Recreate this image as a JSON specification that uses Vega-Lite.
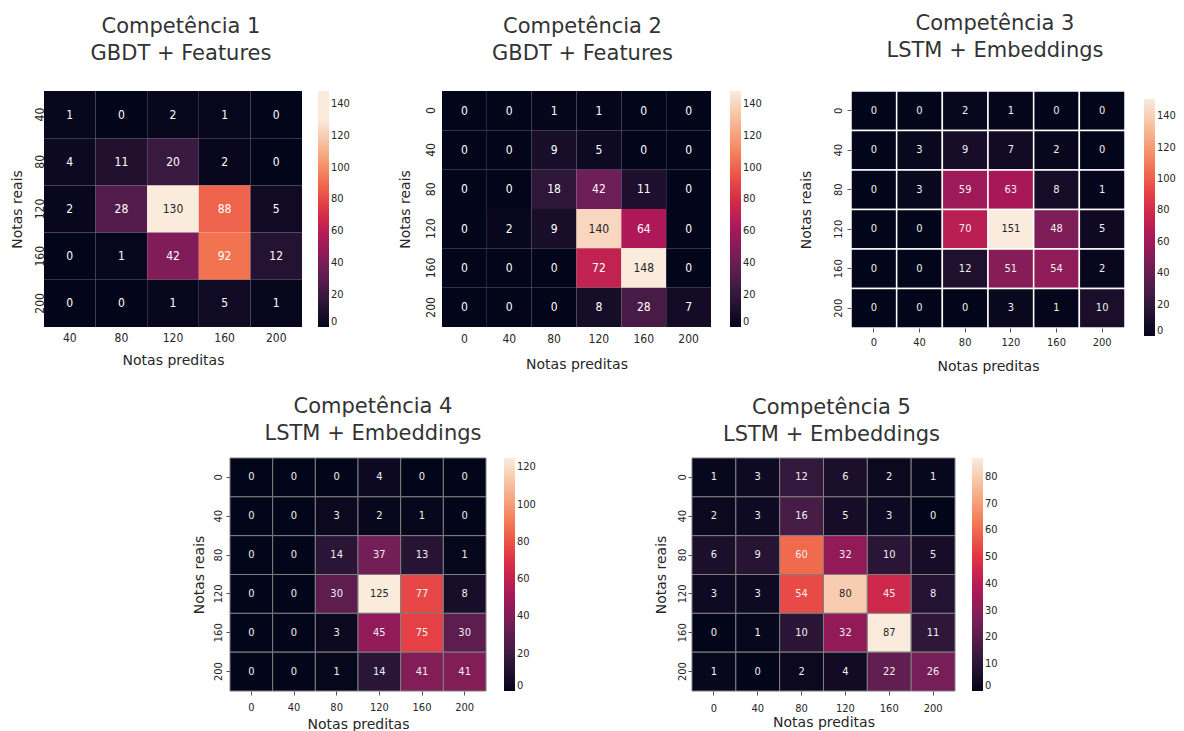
{
  "$schema": "https://vega.github.io/schema/vega-lite/v6.json",
  "background": "white",
  "padding": {"left": 10, "top": 13, "right": 2, "bottom": 2},
  "config": {
    "view": {"stroke": null},
    "axis": {"domain": false, "grid": false, "labelColor": "#262626", "titleColor": "#262626", "titleFont": "DejaVu Sans", "titleFontSize": 14, "titleFontWeight": "normal", "tickColor": "#555555", "tickWidth": 1},
    "legend": {"labelFont": "DejaVu Sans Condensed", "labelFontSize": 11, "labelColor": "#262626", "gradientStrokeWidth": 0, "labelOffset": 7, "labelBaseline": "middle"},
    "title": {"font": "DejaVu Sans", "fontSize": 21, "fontWeight": "normal", "color": "#333333", "lineHeight": 27, "anchor": "middle"}
  },
  "datasets": {
    "c1": [
      {"real": 40, "pred": 40, "n": 1}, {"real": 40, "pred": 80, "n": 0}, {"real": 40, "pred": 120, "n": 2}, {"real": 40, "pred": 160, "n": 1}, {"real": 40, "pred": 200, "n": 0},
      {"real": 80, "pred": 40, "n": 4}, {"real": 80, "pred": 80, "n": 11}, {"real": 80, "pred": 120, "n": 20}, {"real": 80, "pred": 160, "n": 2}, {"real": 80, "pred": 200, "n": 0},
      {"real": 120, "pred": 40, "n": 2}, {"real": 120, "pred": 80, "n": 28}, {"real": 120, "pred": 120, "n": 130}, {"real": 120, "pred": 160, "n": 88}, {"real": 120, "pred": 200, "n": 5},
      {"real": 160, "pred": 40, "n": 0}, {"real": 160, "pred": 80, "n": 1}, {"real": 160, "pred": 120, "n": 42}, {"real": 160, "pred": 160, "n": 92}, {"real": 160, "pred": 200, "n": 12},
      {"real": 200, "pred": 40, "n": 0}, {"real": 200, "pred": 80, "n": 0}, {"real": 200, "pred": 120, "n": 1}, {"real": 200, "pred": 160, "n": 5}, {"real": 200, "pred": 200, "n": 1}
    ],
    "c2": [
      {"real": 0, "pred": 0, "n": 0}, {"real": 0, "pred": 40, "n": 0}, {"real": 0, "pred": 80, "n": 1}, {"real": 0, "pred": 120, "n": 1}, {"real": 0, "pred": 160, "n": 0}, {"real": 0, "pred": 200, "n": 0},
      {"real": 40, "pred": 0, "n": 0}, {"real": 40, "pred": 40, "n": 0}, {"real": 40, "pred": 80, "n": 9}, {"real": 40, "pred": 120, "n": 5}, {"real": 40, "pred": 160, "n": 0}, {"real": 40, "pred": 200, "n": 0},
      {"real": 80, "pred": 0, "n": 0}, {"real": 80, "pred": 40, "n": 0}, {"real": 80, "pred": 80, "n": 18}, {"real": 80, "pred": 120, "n": 42}, {"real": 80, "pred": 160, "n": 11}, {"real": 80, "pred": 200, "n": 0},
      {"real": 120, "pred": 0, "n": 0}, {"real": 120, "pred": 40, "n": 2}, {"real": 120, "pred": 80, "n": 9}, {"real": 120, "pred": 120, "n": 140}, {"real": 120, "pred": 160, "n": 64}, {"real": 120, "pred": 200, "n": 0},
      {"real": 160, "pred": 0, "n": 0}, {"real": 160, "pred": 40, "n": 0}, {"real": 160, "pred": 80, "n": 0}, {"real": 160, "pred": 120, "n": 72}, {"real": 160, "pred": 160, "n": 148}, {"real": 160, "pred": 200, "n": 0},
      {"real": 200, "pred": 0, "n": 0}, {"real": 200, "pred": 40, "n": 0}, {"real": 200, "pred": 80, "n": 0}, {"real": 200, "pred": 120, "n": 8}, {"real": 200, "pred": 160, "n": 28}, {"real": 200, "pred": 200, "n": 7}
    ],
    "c3": [
      {"real": 0, "pred": 0, "n": 0}, {"real": 0, "pred": 40, "n": 0}, {"real": 0, "pred": 80, "n": 2}, {"real": 0, "pred": 120, "n": 1}, {"real": 0, "pred": 160, "n": 0}, {"real": 0, "pred": 200, "n": 0},
      {"real": 40, "pred": 0, "n": 0}, {"real": 40, "pred": 40, "n": 3}, {"real": 40, "pred": 80, "n": 9}, {"real": 40, "pred": 120, "n": 7}, {"real": 40, "pred": 160, "n": 2}, {"real": 40, "pred": 200, "n": 0},
      {"real": 80, "pred": 0, "n": 0}, {"real": 80, "pred": 40, "n": 3}, {"real": 80, "pred": 80, "n": 59}, {"real": 80, "pred": 120, "n": 63}, {"real": 80, "pred": 160, "n": 8}, {"real": 80, "pred": 200, "n": 1},
      {"real": 120, "pred": 0, "n": 0}, {"real": 120, "pred": 40, "n": 0}, {"real": 120, "pred": 80, "n": 70}, {"real": 120, "pred": 120, "n": 151}, {"real": 120, "pred": 160, "n": 48}, {"real": 120, "pred": 200, "n": 5},
      {"real": 160, "pred": 0, "n": 0}, {"real": 160, "pred": 40, "n": 0}, {"real": 160, "pred": 80, "n": 12}, {"real": 160, "pred": 120, "n": 51}, {"real": 160, "pred": 160, "n": 54}, {"real": 160, "pred": 200, "n": 2},
      {"real": 200, "pred": 0, "n": 0}, {"real": 200, "pred": 40, "n": 0}, {"real": 200, "pred": 80, "n": 0}, {"real": 200, "pred": 120, "n": 3}, {"real": 200, "pred": 160, "n": 1}, {"real": 200, "pred": 200, "n": 10}
    ],
    "c4": [
      {"real": 0, "pred": 0, "n": 0}, {"real": 0, "pred": 40, "n": 0}, {"real": 0, "pred": 80, "n": 0}, {"real": 0, "pred": 120, "n": 4}, {"real": 0, "pred": 160, "n": 0}, {"real": 0, "pred": 200, "n": 0},
      {"real": 40, "pred": 0, "n": 0}, {"real": 40, "pred": 40, "n": 0}, {"real": 40, "pred": 80, "n": 3}, {"real": 40, "pred": 120, "n": 2}, {"real": 40, "pred": 160, "n": 1}, {"real": 40, "pred": 200, "n": 0},
      {"real": 80, "pred": 0, "n": 0}, {"real": 80, "pred": 40, "n": 0}, {"real": 80, "pred": 80, "n": 14}, {"real": 80, "pred": 120, "n": 37}, {"real": 80, "pred": 160, "n": 13}, {"real": 80, "pred": 200, "n": 1},
      {"real": 120, "pred": 0, "n": 0}, {"real": 120, "pred": 40, "n": 0}, {"real": 120, "pred": 80, "n": 30}, {"real": 120, "pred": 120, "n": 125}, {"real": 120, "pred": 160, "n": 77}, {"real": 120, "pred": 200, "n": 8},
      {"real": 160, "pred": 0, "n": 0}, {"real": 160, "pred": 40, "n": 0}, {"real": 160, "pred": 80, "n": 3}, {"real": 160, "pred": 120, "n": 45}, {"real": 160, "pred": 160, "n": 75}, {"real": 160, "pred": 200, "n": 30},
      {"real": 200, "pred": 0, "n": 0}, {"real": 200, "pred": 40, "n": 0}, {"real": 200, "pred": 80, "n": 1}, {"real": 200, "pred": 120, "n": 14}, {"real": 200, "pred": 160, "n": 41}, {"real": 200, "pred": 200, "n": 41}
    ],
    "c5": [
      {"real": 0, "pred": 0, "n": 1}, {"real": 0, "pred": 40, "n": 3}, {"real": 0, "pred": 80, "n": 12}, {"real": 0, "pred": 120, "n": 6}, {"real": 0, "pred": 160, "n": 2}, {"real": 0, "pred": 200, "n": 1},
      {"real": 40, "pred": 0, "n": 2}, {"real": 40, "pred": 40, "n": 3}, {"real": 40, "pred": 80, "n": 16}, {"real": 40, "pred": 120, "n": 5}, {"real": 40, "pred": 160, "n": 3}, {"real": 40, "pred": 200, "n": 0},
      {"real": 80, "pred": 0, "n": 6}, {"real": 80, "pred": 40, "n": 9}, {"real": 80, "pred": 80, "n": 60}, {"real": 80, "pred": 120, "n": 32}, {"real": 80, "pred": 160, "n": 10}, {"real": 80, "pred": 200, "n": 5},
      {"real": 120, "pred": 0, "n": 3}, {"real": 120, "pred": 40, "n": 3}, {"real": 120, "pred": 80, "n": 54}, {"real": 120, "pred": 120, "n": 80}, {"real": 120, "pred": 160, "n": 45}, {"real": 120, "pred": 200, "n": 8},
      {"real": 160, "pred": 0, "n": 0}, {"real": 160, "pred": 40, "n": 1}, {"real": 160, "pred": 80, "n": 10}, {"real": 160, "pred": 120, "n": 32}, {"real": 160, "pred": 160, "n": 87}, {"real": 160, "pred": 200, "n": 11},
      {"real": 200, "pred": 0, "n": 1}, {"real": 200, "pred": 40, "n": 0}, {"real": 200, "pred": 80, "n": 2}, {"real": 200, "pred": 120, "n": 4}, {"real": 200, "pred": 160, "n": 22}, {"real": 200, "pred": 200, "n": 26}
    ]
  },
  "vconcat": [
    {
      "hconcat": [
        {
          "width": 258, "height": 236,
          "data": {"name": "c1"},
          "title": {"text": ["Competência 1", "GBDT + Features"], "offset": 27, "dx": 8},
          "encoding": {
            "x": {"field": "pred", "type": "ordinal", "scale": {"paddingInner": 0, "paddingOuter": 0}, "axis": {"title": "Notas preditas", "labelAngle": 0, "labelFont": "DejaVu Sans Condensed", "labelFontSize": 12, "labelPadding": 5, "ticks": false, "tickSize": 0, "titlePadding": 10}},
            "y": {"field": "real", "type": "ordinal", "scale": {"paddingInner": 0, "paddingOuter": 0}, "axis": {"title": "Notas reais", "labelAngle": -90, "labelAlign": "center", "labelBaseline": "bottom", "labelFont": "DejaVu Sans Condensed", "labelFontSize": 12, "labelPadding": -2, "ticks": false, "tickSize": 0, "titlePadding": 9}}
          },
          "layer": [
            {"mark": {"type": "rect"}, "encoding": {"color": {"field": "n", "type": "quantitative", "scale": {"type": "linear", "domain": [0, 18.57, 37.14, 55.71, 74.29, 92.86, 111.43, 130, 148], "range": ["#03051a", "#35193e", "#701f57", "#ad1759", "#e13342", "#f37651", "#f6b48f", "#faebdd", "#faebdd"], "interpolate": "rgb"}, "legend": {"title": null, "orient": "right", "offset": 16, "gradientLength": 236, "gradientThickness": 11, "values": [0, 20, 40, 60, 80, 100, 120, 140]}}}},
            {"mark": {"type": "text", "font": "DejaVu Sans Condensed", "fontSize": 12}, "encoding": {"text": {"field": "n", "type": "quantitative"}, "color": {"condition": {"test": "datum.n >= 101", "value": "#262626"}, "value": "#ffffff"}}}
          ]
        },
        {
          "width": 269, "height": 236,
          "data": {"name": "c2"},
          "title": {"text": ["Competência 2", "GBDT + Features"], "offset": 27, "dx": 6},
          "encoding": {
            "x": {"field": "pred", "type": "ordinal", "scale": {"paddingInner": 0, "paddingOuter": 0}, "axis": {"title": "Notas preditas", "labelAngle": 0, "labelFont": "DejaVu Sans Condensed", "labelFontSize": 12, "labelPadding": 6, "ticks": false, "tickSize": 0, "titlePadding": 13}},
            "y": {"field": "real", "type": "ordinal", "scale": {"paddingInner": 0, "paddingOuter": 0}, "axis": {"title": "Notas reais", "labelAngle": -90, "labelAlign": "center", "labelBaseline": "bottom", "labelFont": "DejaVu Sans Condensed", "labelFontSize": 12, "labelPadding": 5, "ticks": false, "tickSize": 0, "titlePadding": 12}}
          },
          "layer": [
            {"mark": {"type": "rect"}, "encoding": {"color": {"field": "n", "type": "quantitative", "scale": {"type": "linear", "domain": [0, 21.14, 42.29, 63.43, 84.57, 105.71, 126.86, 148], "range": ["#03051a", "#35193e", "#701f57", "#ad1759", "#e13342", "#f37651", "#f6b48f", "#faebdd"], "interpolate": "rgb"}, "legend": {"title": null, "orient": "right", "offset": 19, "gradientLength": 236, "gradientThickness": 11, "values": [0, 20, 40, 60, 80, 100, 120, 140]}}}},
            {"mark": {"type": "text", "font": "DejaVu Sans Condensed", "fontSize": 12}, "encoding": {"text": {"field": "n", "type": "quantitative"}, "color": {"condition": {"test": "datum.n >= 115", "value": "#262626"}, "value": "#ffffff"}}}
          ]
        },
        {
          "width": 274, "height": 237,
          "data": {"name": "c3"},
          "title": {"text": ["Competência 3", "LSTM + Embeddings"], "offset": 29, "dx": 7},
          "encoding": {
            "x": {"field": "pred", "type": "ordinal", "scale": {"paddingInner": 0, "paddingOuter": 0}, "axis": {"title": "Notas preditas", "labelAngle": 0, "labelFont": "DejaVu Sans Condensed", "labelFontSize": 11, "labelPadding": 4, "ticks": true, "tickSize": 4, "titlePadding": 12}},
            "y": {"field": "real", "type": "ordinal", "scale": {"paddingInner": 0, "paddingOuter": 0}, "axis": {"title": "Notas reais", "labelAngle": -90, "labelAlign": "center", "labelBaseline": "bottom", "labelFont": "DejaVu Sans Condensed", "labelFontSize": 11, "labelPadding": 4, "ticks": true, "tickSize": 4, "titlePadding": 19}}
          },
          "layer": [
            {"mark": {"type": "rect", "stroke": "#ffffff", "strokeWidth": 1.5}, "encoding": {"color": {"field": "n", "type": "quantitative", "scale": {"type": "linear", "domain": [0, 21.57, 43.14, 64.71, 86.29, 107.86, 129.43, 151], "range": ["#03051a", "#35193e", "#701f57", "#ad1759", "#e13342", "#f37651", "#f6b48f", "#faebdd"], "interpolate": "rgb"}, "legend": {"title": null, "orient": "right", "offset": 11, "padding": 8, "gradientLength": 237, "gradientThickness": 11, "values": [0, 20, 40, 60, 80, 100, 120, 140]}}}},
            {"mark": {"type": "text", "font": "DejaVu Sans Condensed", "fontSize": 11}, "encoding": {"text": {"field": "n", "type": "quantitative"}, "color": {"condition": {"test": "datum.n >= 118", "value": "#262626"}, "value": "#f0f0f0"}}}
          ]
        }
      ],
      "spacing": 140,
      "bounds": "flush",
      "resolve": {"scale": {"color": "independent"}, "legend": {"color": "independent"}}
    },
    {
      "hconcat": [
        {
          "width": 256, "height": 233,
          "data": {"name": "c4"},
          "title": {"text": ["Competência 4", "LSTM + Embeddings"], "offset": 14, "dx": 15},
          "encoding": {
            "x": {"field": "pred", "type": "ordinal", "scale": {"paddingInner": 0, "paddingOuter": 0}, "axis": {"title": "Notas preditas", "labelAngle": 0, "labelFont": "DejaVu Sans Condensed", "labelFontSize": 11, "labelPadding": 6, "ticks": true, "tickSize": 4, "titlePadding": 5}},
            "y": {"field": "real", "type": "ordinal", "scale": {"paddingInner": 0, "paddingOuter": 0}, "axis": {"title": "Notas reais", "labelAngle": -90, "labelAlign": "center", "labelBaseline": "bottom", "labelFont": "DejaVu Sans Condensed", "labelFontSize": 11, "labelPadding": 3, "ticks": true, "tickSize": 4, "titlePadding": 6}}
          },
          "layer": [
            {"mark": {"type": "rect", "stroke": "#7f7f7f", "strokeWidth": 1}, "encoding": {"color": {"field": "n", "type": "quantitative", "scale": {"type": "linear", "domain": [0, 17.86, 35.71, 53.57, 71.43, 89.29, 107.14, 125], "range": ["#03051a", "#35193e", "#701f57", "#ad1759", "#e13342", "#f37651", "#f6b48f", "#faebdd"], "interpolate": "rgb"}, "legend": {"title": null, "orient": "right", "offset": 18, "gradientLength": 233, "gradientThickness": 11, "values": [0, 20, 40, 60, 80, 100, 120]}}}},
            {"mark": {"type": "text", "font": "DejaVu Sans Condensed", "fontSize": 11}, "encoding": {"text": {"field": "n", "type": "quantitative"}, "color": {"condition": {"test": "datum.n >= 98", "value": "#262626"}, "value": "#f0f0f0"}}}
          ]
        },
        {
          "width": 263, "height": 233,
          "data": {"name": "c5"},
          "title": {"text": ["Competência 5", "LSTM + Embeddings"], "offset": 13, "dx": 8},
          "encoding": {
            "x": {"field": "pred", "type": "ordinal", "scale": {"paddingInner": 0, "paddingOuter": 0}, "axis": {"title": "Notas preditas", "labelAngle": 0, "labelFont": "DejaVu Sans Condensed", "labelFontSize": 11, "labelPadding": 7, "ticks": true, "tickSize": 4, "titlePadding": 2}},
            "y": {"field": "real", "type": "ordinal", "scale": {"paddingInner": 0, "paddingOuter": 0}, "axis": {"title": "Notas reais", "labelAngle": -90, "labelAlign": "center", "labelBaseline": "bottom", "labelFont": "DejaVu Sans Condensed", "labelFontSize": 11, "labelPadding": 1, "ticks": true, "tickSize": 4, "titlePadding": 8}}
          },
          "layer": [
            {"mark": {"type": "rect", "stroke": "#7f7f7f", "strokeWidth": 1}, "encoding": {"color": {"field": "n", "type": "quantitative", "scale": {"type": "linear", "domain": [0, 12.43, 24.86, 37.29, 49.71, 62.14, 74.57, 87], "range": ["#03051a", "#35193e", "#701f57", "#ad1759", "#e13342", "#f37651", "#f6b48f", "#faebdd"], "interpolate": "rgb"}, "legend": {"title": null, "orient": "right", "offset": 17, "gradientLength": 233, "gradientThickness": 11, "values": [0, 10, 20, 30, 40, 50, 60, 70, 80]}}}},
            {"mark": {"type": "text", "font": "DejaVu Sans Condensed", "fontSize": 11}, "encoding": {"text": {"field": "n", "type": "quantitative"}, "color": {"condition": {"test": "datum.n >= 68", "value": "#262626"}, "value": "#f0f0f0"}}}
          ]
        }
      ],
      "spacing": 206,
      "bounds": "flush",
      "resolve": {"scale": {"color": "independent"}, "legend": {"color": "independent"}}
    }
  ],
  "spacing": 22,
  "center": true,
  "resolve": {"scale": {"color": "independent"}, "legend": {"color": "independent"}}
}
